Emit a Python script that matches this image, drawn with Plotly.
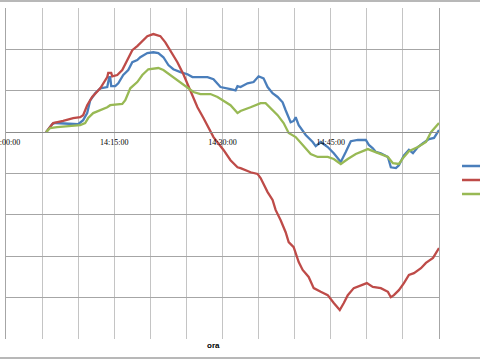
import pandas as pd
import plotly.graph_objects as go

# minutes after 14:00 and values (grid units)
blue_min = [5.56, 5.97, 6.39, 6.81, 10.0, 10.69, 11.25, 11.67, 12.36, 13.06, 14.03, 14.31, 14.44, 14.58, 15.14, 15.56,
            16.25, 16.94, 17.5, 18.19, 18.61, 19.58, 20.42, 21.11, 21.81, 22.5, 23.19, 24.17, 25.14, 25.83, 26.94,
            27.92, 28.75, 29.72, 31.11, 31.81, 32.08, 32.5, 33.47, 34.31, 35.0, 35.69, 36.25, 36.94, 37.64, 38.33,
            38.75, 39.44, 39.86, 40.14, 40.56, 41.53, 42.5, 42.92, 43.61, 44.58, 45.42, 46.39, 47.08, 47.78, 48.75,
            49.86, 50.28, 50.83, 51.25, 51.94, 52.92, 53.33, 54.03, 54.44, 55.14, 55.83, 56.39, 57.08, 57.78, 58.61,
            59.31, 60.0]
blue_val = [0.0, 0.10, 0.19, 0.22, 0.19, 0.29, 0.46, 0.77, 0.94, 1.06, 1.09, 1.33, 1.33, 1.11, 1.11, 1.18,
            1.38, 1.50, 1.69, 1.74, 1.81, 1.91, 1.93, 1.91, 1.81, 1.62, 1.52, 1.45, 1.40, 1.33, 1.33,
            1.33, 1.28, 1.09, 1.04, 1.01, 1.11, 1.09, 1.18, 1.21, 1.35, 1.30, 1.09, 0.94, 0.85, 0.72,
            0.53, 0.24, 0.27, 0.36, 0.17, -0.07, -0.24, -0.34, -0.24, -0.36, -0.51, -0.72, -0.48, -0.22, -0.19,
            -0.19, -0.31, -0.39, -0.48, -0.51, -0.60, -0.85, -0.87, -0.80, -0.56, -0.43, -0.51, -0.36, -0.27, -0.17,
            -0.14, 0.05]

red_min = [5.56, 6.11, 6.53, 7.92, 9.31, 10.28, 10.69, 11.25, 11.94, 13.06, 14.03, 14.17, 14.58, 14.72, 15.42,
           16.11, 16.81, 17.5, 18.19, 18.89, 19.58, 20.42, 21.39, 22.08, 22.78, 23.75, 24.58, 25.56, 26.53, 27.36,
           28.75, 30.14, 31.11, 32.08, 32.5, 33.89, 34.86, 35.28, 35.56, 36.25, 36.94, 37.36, 38.06, 38.75, 39.17,
           39.86, 40.56, 41.11, 41.94, 42.64, 43.61, 44.58, 45.42, 46.25, 46.81, 47.36, 48.19, 49.17, 50.0, 50.83,
           51.94, 52.92, 53.33, 53.75, 54.44, 55.14, 55.83, 56.53, 57.5, 58.19, 59.17, 60.0]
red_val = [0.0, 0.12, 0.22, 0.27, 0.34, 0.36, 0.41, 0.65, 0.85, 1.06, 1.33, 1.43, 1.43, 1.35, 1.38,
           1.50, 1.74, 1.98, 2.08, 2.20, 2.32, 2.37, 2.32, 2.17, 1.98, 1.69, 1.40, 1.01, 0.60, 0.34,
           -0.12, -0.43, -0.68, -0.85, -0.87, -0.97, -1.01, -1.11, -1.21, -1.45, -1.64, -1.88, -2.13, -2.42, -2.66,
           -2.78, -3.14, -3.33, -3.50, -3.77, -3.86, -3.94, -4.13, -4.30, -4.13, -3.94, -3.77, -3.70, -3.65, -3.74,
           -3.77, -3.86, -3.99, -3.94, -3.82, -3.65, -3.45, -3.41, -3.29, -3.16, -3.04, -2.80]

green_min = [5.56, 6.11, 7.08, 8.47, 10.28, 10.97, 11.39, 12.08, 13.06, 14.03, 14.44, 16.11, 16.53, 17.22, 18.19,
             18.89, 19.72, 20.69, 21.11, 21.81, 22.78, 24.17, 25.14, 25.97, 26.94, 28.33, 29.31, 31.11, 32.08, 32.5,
             33.89, 35.28, 35.97, 36.67, 37.64, 38.47, 39.17, 40.14, 41.11, 42.22, 43.19, 44.58, 45.42, 46.39, 47.36,
             48.47, 50.14, 51.53, 52.92, 53.61, 54.44, 55.14, 55.83, 57.08, 58.19, 58.89, 60.0]
green_val = [0.0, 0.10, 0.12, 0.14, 0.17, 0.22, 0.34, 0.46, 0.53, 0.60, 0.65, 0.68, 0.77, 1.06, 1.21,
             1.38, 1.52, 1.55, 1.55, 1.50, 1.38, 1.21, 1.09, 0.97, 0.92, 0.92, 0.85, 0.65, 0.46, 0.51,
             0.60, 0.70, 0.70, 0.58, 0.41, 0.22, -0.02, -0.12, -0.31, -0.53, -0.60, -0.60, -0.65, -0.77, -0.65,
             -0.53, -0.41, -0.51, -0.60, -0.75, -0.77, -0.60, -0.46, -0.36, -0.24, 0.0, 0.22]

series_names = ["Serie 1", "Serie 2", "Serie 3"]
series_colors = ["#4A7EBB", "#BE4B48", "#98B954"]
label_times = ["14:00:00", "14:15:00", "14:30:00", "14:45:00"]

base = pd.Timestamp("2024-01-01 14:00:00")


def to_time(mins):
    return [base + pd.Timedelta(minutes=m) for m in mins]


fig = go.Figure()
legend_ids = ["legend", "legend2", "legend3"]
for name, color, xm, yv, lg in [
    (series_names[0], series_colors[0], blue_min, blue_val, legend_ids[0]),
    (series_names[1], series_colors[1], red_min, red_val, legend_ids[1]),
    (series_names[2], series_colors[2], green_min, green_val, legend_ids[2]),
]:
    fig.add_trace(go.Scatter(x=to_time(xm), y=yv, mode="lines", name=name, legend=lg,
                             line=dict(color=color, width=2.3)))

grid_times = [base + pd.Timedelta(minutes=5 * i) for i in range(13)]
label_pos = [pd.Timestamp("2024-01-01 " + t) for t in label_times]

legend_style = dict(x=1.0416, xanchor="left", yanchor="middle",
                    font=dict(size=8, family="Liberation Sans", color="#000000"),
                    bgcolor="rgba(0,0,0,0)")

fig.update_layout(
    width=480, height=360,
    margin=dict(l=6, r=41, t=8, b=21, autoexpand=False),
    paper_bgcolor="white", plot_bgcolor="white",
    showlegend=True,
    legend=dict(y=0.5227, **legend_style),
    legend2=dict(y=0.4804, **legend_style),
    legend3=dict(y=0.438, **legend_style),
    xaxis=dict(
        type="date",
        range=[base, base + pd.Timedelta(minutes=60)],
        anchor="free", position=0.625,
        tickmode="array", tickvals=label_pos, ticktext=label_times,
        tickfont=dict(family="Liberation Serif", size=8, color="#000000"),
        ticklabeloverflow="allow", ticklabelstandoff=2,
        ticks="", showline=True, linecolor="#8C8C8C", linewidth=1,
        showgrid=True, gridcolor="#C4C4C4", gridwidth=1,
        minor=dict(tickmode="array", tickvals=grid_times, showgrid=True,
                   gridcolor="#C4C4C4", gridwidth=1, ticks=""),
        zeroline=False,
    ),
    yaxis=dict(
        range=[-5, 3], dtick=1, tick0=0,
        showticklabels=False, ticks="",
        showgrid=True, gridcolor="#A6A6A6", gridwidth=1,
        showline=True, linecolor="#A6A6A6", mirror=True,
        zeroline=False,
    ),
    annotations=[dict(text="<b>ora</b>", xref="paper", yref="paper", x=0.48, y=-0.021,
                      xanchor="center", yanchor="middle", showarrow=False,
                      font=dict(size=8, family="Liberation Sans", color="#000000"))],
    shapes=[
        dict(type="line", xref="paper", yref="paper", x0=-0.05, x1=1.2, y0=1.021, y1=1.021,
             line=dict(color="#A0A0A0", width=1.5)),
        dict(type="line", xref="paper", yref="paper", x0=-0.05, x1=1.2, y0=-0.0574, y1=-0.0574,
             line=dict(color="#A0A0A0", width=1.5)),
    ],
)

fig.write_html("out.html", config={"displayModeBar": False},
               post_script="document.body.style.margin='0';document.body.style.padding='0';")
